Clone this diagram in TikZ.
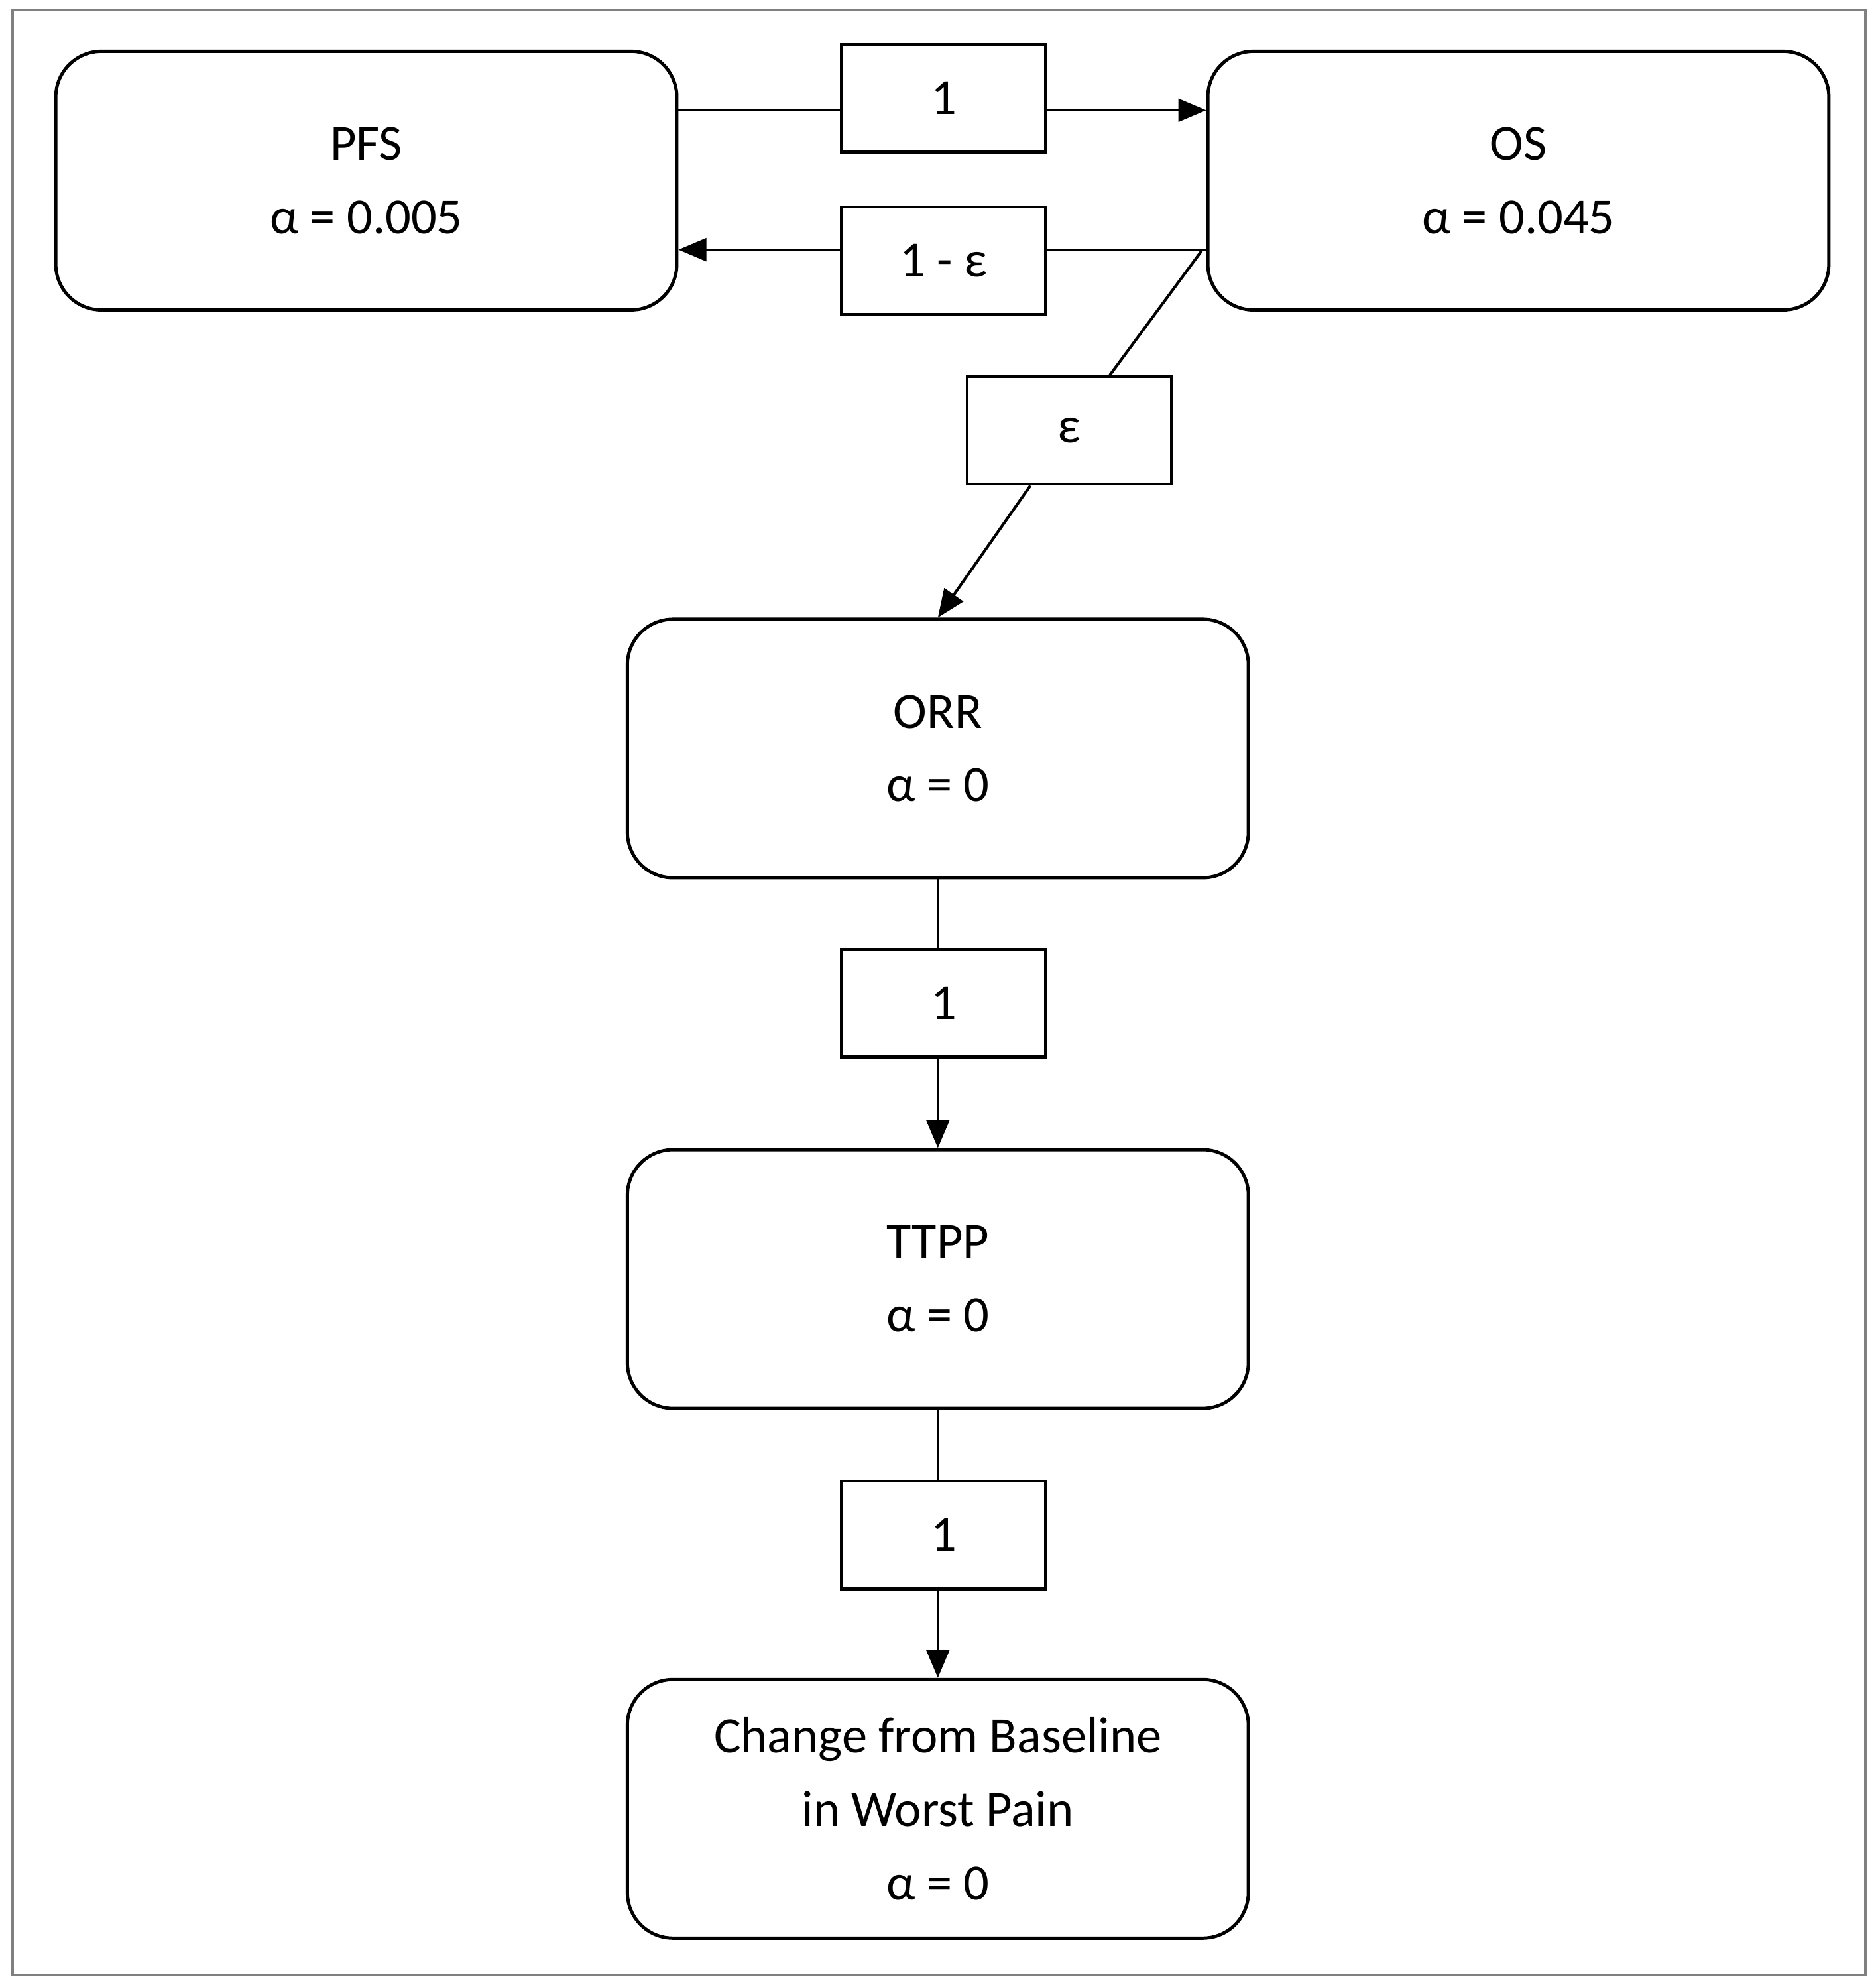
\documentclass[tikz,border=0pt]{standalone}
\usepackage{fontspec}
\setmainfont{Carlito}
\usetikzlibrary{arrows.meta}
\begin{document}
\begin{tikzpicture}[x=0.5pt,y=-0.5pt,
  big/.style={draw,line width=1.3pt,rounded corners=18pt,minimum width=245pt,minimum height=102pt,align=center,font=\fontsize{20}{29}\selectfont},
  lab/.style={draw,line width=1.1pt,minimum width=80.5pt,minimum height=42.5pt,font=\fontsize{20}{24}\selectfont,fill=white},
  con/.style={line width=1.1pt},
  arr/.style={con,-{Triangle[length=11pt,width=9pt]}}]
\useasboundingbox (0,0) rectangle (1480,1566);
\draw[gray,line width=1pt] (10,8) rectangle (1472,1558);
\node[big] (pfs) at (289,142.5) {PFS\\α = 0.005};
\node[big] (os) at (1198,142.5) {OS\\α = 0.045};
\node[big] (orr) at (740,590.5) {ORR\\α = 0};
\node[big] (ttpp) at (740,1009) {TTPP\\α = 0};
\node[big] (chg) at (740,1427) {Change from Baseline\\in Worst Pain\\α = 0};
\node[lab] (l1) at (744.5,77.5) {1};
\node[lab] (l2) at (744.5,205.5) {1 - ε};
\node[lab] (le) at (843.5,339.5) {ε};
\node[lab] (l3) at (744.5,791.5) {1};
\node[lab] (l4) at (744.5,1211) {1};
\coordinate (s) at (948,198);
\draw[con] (pfs.east |- 0,87) -- (l1.west |- 0,87);
\draw[arr] (l1.east |- 0,87) -- (os.west |- 0,87);
\draw[con] (os.west |- 0,197) -- (l2.east |- 0,197);
\draw[arr] (l2.west |- 0,197) -- (pfs.east |- 0,197);
\draw[con] (s) -- (le);
\draw[arr] (le) -- (orr.north);
\draw[con] (orr.south) -- (orr.south |- l3.north);
\draw[arr] (orr.south |- l3.south) -- (ttpp.north);
\draw[con] (ttpp.south) -- (ttpp.south |- l4.north);
\draw[arr] (ttpp.south |- l4.south) -- (chg.north);
\end{tikzpicture}
\end{document}
